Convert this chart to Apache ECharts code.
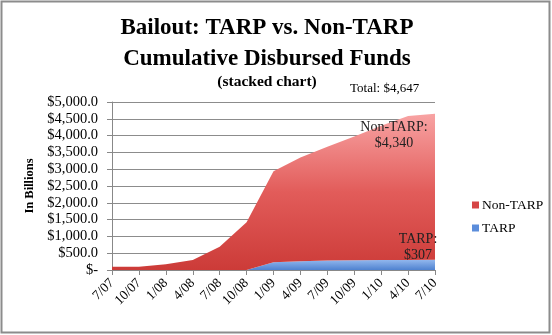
<!DOCTYPE html>
<html><head><meta charset="utf-8">
<script src="https://cdn.jsdelivr.net/npm/echarts@6/dist/echarts.min.js"></script>
<style>html,body{margin:0;padding:0;background:#fff}#c{width:552px;height:335px}</style>
</head><body><div id="c"></div>
<script>
var categories = ['7/07','10/07','1/08','4/08','7/08','10/08','1/09','4/09','7/09','10/09','1/10','4/10','7/10'];
var tarp = [0,0,0,0,0,0,230,260,280,290,295,300,307];
var nonTarp = [100,100,170,300,695,1420,2710,3090,3390,3680,3995,4285,4340];
var yTicks = {min:0, max:5000, interval:500};

var serif = '"Liberation Serif", "DejaVu Serif", serif';
var chart = echarts.init(document.getElementById('c'));
function money(v){
  if (v === 0) return '$-';
  return '$' + v.toLocaleString('en-US',{minimumFractionDigits:1,maximumFractionDigits:1});
}
chart.setOption({
  animation:false,
  backgroundColor:'#fff',
  textStyle:{fontFamily:serif},
  title:[{
    text:'Bailout: TARP vs. Non-TARP\nCumulative Disbursed Funds',
    left:262, top:8, textAlign:'center',
    textStyle:{fontFamily:serif, fontWeight:'bold', fontSize:23, lineHeight:31, color:'#000'}
  },{
    text:'(stacked chart)', left:262, top:69, textAlign:'center',
    textStyle:{fontFamily:serif, fontWeight:'bold', fontSize:15.5, color:'#000'}
  },{
    text:'Total: $4,647', left:345, top:77,
    textStyle:{fontFamily:serif, fontWeight:'normal', fontSize:13, color:'#000'}
  }],
  legend:{
    orient:'vertical', left:467, top:193, itemWidth:7, itemHeight:7, itemGap:9,
    icon:'rect',
    data:['Non-TARP','TARP'],
    textStyle:{fontFamily:serif, fontSize:13.5, color:'#000', padding:[0,0,0,-2]}
  },
  grid:{left:112, right:117, top:102, bottom:65},
  xAxis:{
    type:'category', data:categories, boundaryGap:false,
    axisLine:{lineStyle:{color:'#888'}},
    axisTick:{show:true, length:5, lineStyle:{color:'#888'}, alignWithLabel:true},
    axisLabel:{rotate:45, fontFamily:serif, fontSize:13.5, color:'#000', margin:11, interval:0}
  },
  yAxis:{
    type:'value', min:yTicks.min, max:yTicks.max, interval:yTicks.interval,
    name:'In Billions', nameLocation:'middle', nameGap:76, nameRotate:90,
    nameTextStyle:{fontFamily:serif, fontWeight:'bold', fontSize:12.5, color:'#000'},
    axisLine:{show:true, lineStyle:{color:'#888'}},
    axisTick:{show:true, length:5, lineStyle:{color:'#888'}},
    splitLine:{lineStyle:{color:'#8c8c8c', width:1}},
    axisLabel:{formatter:money, fontFamily:serif, fontSize:14.5, color:'#000', margin:14}
  },
  series:[{
    name:'TARP', type:'line', stack:'a', data:tarp, symbol:'none',
    lineStyle:{width:0},
    itemStyle:{color:'#5b8ddb'},
    areaStyle:{opacity:1, color:new echarts.graphic.LinearGradient(0,0,0,1,[
      {offset:0,color:'#93b8ee'},{offset:1,color:'#4f82d0'}])}
  },{
    name:'Non-TARP', type:'line', stack:'a', data:nonTarp, symbol:'none',
    lineStyle:{width:0},
    itemStyle:{color:'#d64545'},
    areaStyle:{opacity:1, color:new echarts.graphic.LinearGradient(0,0,0,1,[
      {offset:0,color:'#f8a3a3'},{offset:0.5,color:'#e25c5a'},{offset:1,color:'#cc3b38'}])}
  }],
  graphic:[{
    type:'rect', shape:{x:1.5, y:1.5, width:548, height:331},
    style:{fill:'none', stroke:'#8c8c8c', lineWidth:2}, silent:true, z:100
  },{
    type:'text', x:394, y:119, z:100,
    style:{text:'Non-TARP:\n$4,340', fill:'#222', font:'14px '+serif, textAlign:'center', lineHeight:16}
  },{
    type:'text', x:418, y:231, z:100,
    style:{text:'TARP:\n$307', fill:'#222', font:'14px '+serif, textAlign:'center', lineHeight:16}
  }]
});
</script></body></html>
